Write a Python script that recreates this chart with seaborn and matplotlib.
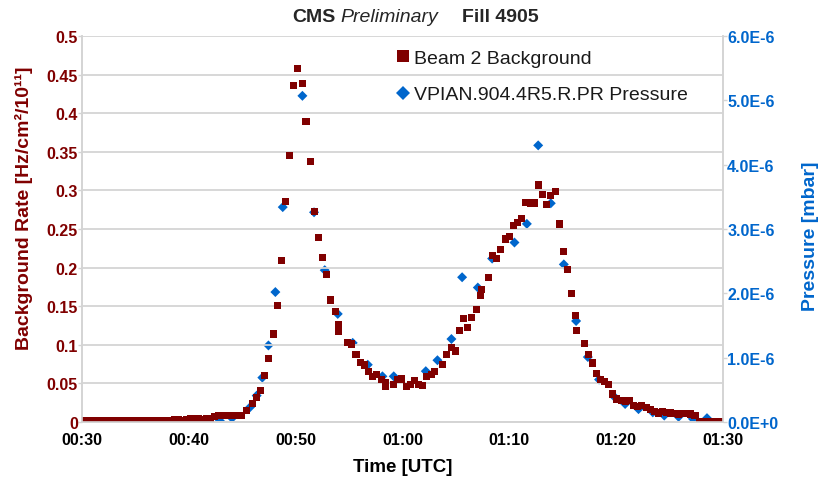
import matplotlib
matplotlib.use("Agg")
import matplotlib.pyplot as plt
import seaborn as sns
import pandas as pd
from matplotlib.lines import Line2D

# ---------------- data (time in minutes after midnight UTC) ----------------
bkg_time = [30.0, 30.37, 30.75, 31.12, 31.5, 31.87, 32.62, 33.0, 33.37, 33.75,
            34.12, 34.5, 34.87, 35.25, 35.62, 36.0, 36.37, 36.75, 37.12, 37.5,
            37.87, 38.25, 38.62, 39.0, 39.37, 39.75, 40.12, 40.5, 40.87, 41.25,
            41.62, 42.0, 42.37, 42.75, 43.12, 43.5, 43.87, 44.25, 44.5, 44.95,
            45.36, 45.95, 46.32, 46.73, 47.1, 47.48, 47.91, 48.28, 48.66, 49.04,
            49.45, 49.76, 50.2, 50.6, 50.97, 51.4, 51.75, 52.16, 52.54, 52.9,
            53.25, 53.7, 54.0, 54.05, 54.88, 55.25, 55.65, 56.03, 56.43, 56.8,
            57.22, 57.6, 58.0, 58.37, 58.4, 59.15, 59.56, 59.93, 60.34, 60.71,
            61.09, 61.5, 61.86, 62.27, 62.68, 63.0, 63.77, 64.1, 64.55, 64.95,
            65.33, 65.7, 66.1, 66.49, 66.9, 67.27, 67.42, 68.04, 68.45, 68.83,
            69.2, 69.6, 69.98, 70.39, 70.76, 71.14, 71.55, 71.95, 72.32, 72.73,
            73.1, 73.51, 73.88, 74.29, 74.66, 75.07, 75.44, 75.82, 76.19, 76.25,
            77.0, 77.38, 77.75, 78.13, 78.5, 78.9, 79.28, 79.69, 80.06, 80.47,
            80.84, 81.2, 81.62, 82.03, 82.4, 82.8, 83.18, 83.58, 83.96, 84.33,
            84.7, 85.06, 85.45, 85.84, 86.24, 86.6, 87.0, 87.38, 87.85, 88.2,
            88.6, 89.0, 89.4, 89.8]
bkg_rate = [0.002, 0.002, 0.002, 0.002, 0.002, 0.002, 0.002, 0.002, 0.002, 0.0025,
            0.002, 0.002, 0.0015, 0.0015, 0.0015, 0.0015, 0.002, 0.002, 0.0025, 0.002,
            0.002, 0.0025, 0.003, 0.003, 0.0025, 0.003, 0.004, 0.004, 0.004, 0.0035,
            0.004, 0.005, 0.007, 0.009, 0.008, 0.009, 0.009, 0.009, 0.0085, 0.009,
            0.0147, 0.0242, 0.032, 0.0406, 0.060, 0.0825, 0.114, 0.151, 0.209, 0.286,
            0.345, 0.436, 0.458, 0.439, 0.389, 0.337, 0.273, 0.239, 0.213, 0.191,
            0.158, 0.143, 0.1265, 0.117, 0.103, 0.101, 0.087, 0.077, 0.0738, 0.065,
            0.0587, 0.062, 0.0548, 0.046, 0.051, 0.048, 0.055, 0.0557, 0.046, 0.048,
            0.0535, 0.049, 0.047, 0.0587, 0.062, 0.065, 0.075, 0.087, 0.096, 0.092,
            0.118, 0.134, 0.1225, 0.1355, 0.146, 0.1635, 0.172, 0.187, 0.216, 0.212,
            0.223, 0.237, 0.2405, 0.254, 0.258, 0.264, 0.2845, 0.2837, 0.2837, 0.307,
            0.2945, 0.2815, 0.293, 0.299, 0.2565, 0.221, 0.198, 0.1667, 0.1377, 0.118,
            0.102, 0.088, 0.0764, 0.063, 0.055, 0.0527, 0.049, 0.0363, 0.0298, 0.0276,
            0.027, 0.0276, 0.021, 0.0203, 0.021, 0.019, 0.016, 0.0134, 0.0117, 0.0134,
            0.012, 0.0117, 0.011, 0.0104, 0.0112, 0.0112, 0.0104, 0.0082, 0.0, 0.0,
            0.0, 0.0, 0.0, 0.0]

pres_time = [30.5, 31.8, 33.1, 34.4, 35.7, 37.0, 38.2, 39.8, 41.8, 42.9,
             44.04, 45.73, 46.35, 46.88, 47.45, 48.1, 48.79, 50.63, 51.72, 52.72,
             53.94, 55.34, 56.75, 58.12, 59.18, 62.18, 63.27, 64.58, 65.58, 67.05,
             68.39, 70.48, 71.64, 72.7, 73.88, 75.1, 76.25, 77.35, 78.4, 79.9,
             80.84, 82.09, 83.43, 84.5, 85.84, 87.18, 88.5]
pressure = [0.0, 0.0, 0.0, 0.0, 0.0, 0.0, 0.0, 0.0, 0.0, 0.02e-6,
            0.06e-6, 0.23e-6, 0.41e-6, 0.69e-6, 1.19e-6, 2.02e-6, 3.34e-6, 5.07e-6, 3.26e-6, 2.36e-6,
            1.68e-6, 1.23e-6, 0.89e-6, 0.71e-6, 0.71e-6, 0.79e-6, 0.96e-6, 1.29e-6, 2.25e-6, 2.09e-6,
            2.54e-6, 2.79e-6, 3.08e-6, 4.30e-6, 3.40e-6, 2.45e-6, 1.57e-6, 1.01e-6, 0.66e-6, 0.38e-6,
            0.28e-6, 0.20e-6, 0.15e-6, 0.10e-6, 0.08e-6, 0.05e-6, 0.06e-6]

x_ticks = [30, 40, 50, 60, 70, 80, 90]
x_tick_labels = ["00:30", "00:40", "00:50", "01:00", "01:10", "01:20", "01:30"]
left_ticks = [0, 0.05, 0.1, 0.15, 0.2, 0.25, 0.3, 0.35, 0.4, 0.45, 0.5]
left_tick_labels = ["0", "0.05", "0.1", "0.15", "0.2", "0.25", "0.3", "0.35", "0.4", "0.45", "0.5"]
right_ticks = [0, 1e-6, 2e-6, 3e-6, 4e-6, 5e-6, 6e-6]
right_tick_labels = ["0.0E+0", "1.0E-6", "2.0E-6", "3.0E-6", "4.0E-6", "5.0E-6", "6.0E-6"]

bkg_label = "Beam 2 Background"
pres_label = "VPIAN.904.4R5.R.PR Pressure"

RED = "#800000"
BLUE = "#0066CC"
GRID = "#d4d4d4"

sns.set_style("white")
plt.rcParams["font.family"] = ["Liberation Sans", "DejaVu Sans"]

df_b = pd.DataFrame({"time": bkg_time, "rate": bkg_rate})
df_p = pd.DataFrame({"time": pres_time, "pressure": pressure})

fig = plt.figure(figsize=(8.2, 4.81), dpi=100)
ax = fig.add_axes([82 / 820, 1 - 423 / 481, (723 - 82) / 820, (423 - 37) / 481])
ax2 = ax.twinx()

# pressure drawn below background
ax.set_zorder(2)
ax2.set_zorder(1)
ax.patch.set_visible(False)

sns.scatterplot(data=df_p, x="time", y="pressure", ax=ax2, marker="D", s=26,
                color=BLUE, edgecolor="none", linewidth=0, legend=False)
sns.scatterplot(data=df_b, x="time", y="rate", ax=ax, marker="s", s=26,
                color=RED, edgecolor="none", linewidth=0, legend=False)

ax.set_xlim(30, 90)
ax.set_ylim(0, 0.5)
ax2.set_ylim(0, 6e-6)

ax.set_xticks(x_ticks)
ax.set_xticklabels(x_tick_labels)
ax.set_yticks(left_ticks)
ax.set_yticklabels(left_tick_labels)
ax2.set_yticks(right_ticks)
ax2.set_yticklabels(right_tick_labels)

ax2.yaxis.grid(False)
ax.yaxis.grid(True, color=GRID, linewidth=1.3, zorder=0)
ax.set_axisbelow(True)
ax.xaxis.grid(False)

for a in (ax, ax2):
    for s in a.spines.values():
        s.set_color(GRID)
        s.set_linewidth(1.2)
    a.spines["top"].set_visible(False)

ax.tick_params(axis="x", colors=GRID, length=4, width=1, pad=3, labelsize=11.5,
               labelcolor="black")
ax.tick_params(axis="y", colors=GRID, length=3, width=1, pad=0, labelsize=11.5,
               labelcolor=RED)
ax2.tick_params(axis="y", colors=GRID, length=3, width=1, pad=0, labelsize=11.5,
                labelcolor=BLUE)
for lab in ax.get_xticklabels() + ax.get_yticklabels() + ax2.get_yticklabels():
    lab.set_fontweight("bold")

ax.set_xlabel("Time [UTC]", fontsize=13.5, fontweight="bold", color="black", labelpad=8)
ax.set_ylabel("")
ax2.set_ylabel("")
fig.text(24 / 820, 1 - 208 / 481, "Background Rate [Hz/cm²/10¹¹]", fontsize=14,
         fontweight="bold", color=RED, rotation=90, ha="center", va="center")
fig.text(811 / 820, 1 - 236 / 481, "Pressure [mbar]", fontsize=14,
         fontweight="bold", color=BLUE, rotation=90, ha="center", va="center")

# title
fig.text(292 / 820, 1 - 18 / 481, "CMS", fontsize=14, fontweight="bold",
         ha="left", va="center")
fig.text(340 / 820, 1 - 18 / 481, "Preliminary", fontsize=14, fontstyle="italic",
         ha="left", va="center")
fig.text(462 / 820, 1 - 18 / 481, "Fill 4905", fontsize=14, fontweight="bold",
         ha="left", va="center")

handles = [
    Line2D([], [], marker="s", linestyle="none", color=RED, markersize=9,
           markeredgewidth=0),
    Line2D([], [], marker="D", linestyle="none", color=BLUE, markersize=7,
           markeredgewidth=0),
]
leg = ax.legend(handles, [bkg_label, pres_label], loc="upper left",
                bbox_to_anchor=((386 - 82) / 641, 1.0 - 2 / 386), frameon=False,
                fontsize=14, handlelength=0.6, handletextpad=0.25,
                labelspacing=0.95, borderaxespad=0.2)
for t in leg.get_texts():
    t.set_color("#1a1a1a")

fig.savefig("out.png", dpi=100)
